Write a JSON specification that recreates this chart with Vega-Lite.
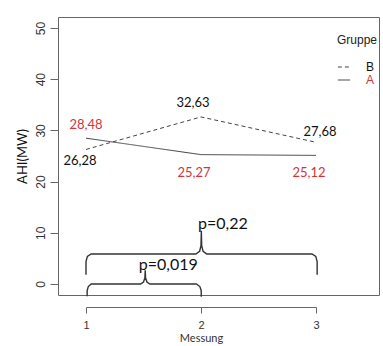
{
  "$schema": "https://vega.github.io/schema/vega-lite/v6.json",
  "width": 321,
  "height": 278,
  "autosize": "none",
  "padding": {"left": 58, "top": 17, "right": 4, "bottom": 51},
  "background": "white",
  "config": {
    "view": {"stroke": "#666", "strokeWidth": 1},
    "axis": {"grid": false, "labelFont": "Liberation Sans", "titleFont": "Lato", "titleFontWeight": "normal", "labelColor": "#333", "tickColor": "#666", "domainColor": "#666", "labelOverlap": false}
  },
  "datasets": {
    "means": [
      {"Messung": 1, "Gruppe": "A", "AHI": 28.48, "label": "28,48"},
      {"Messung": 2, "Gruppe": "A", "AHI": 25.27, "label": "25,27"},
      {"Messung": 3, "Gruppe": "A", "AHI": 25.12, "label": "25,12"},
      {"Messung": 1, "Gruppe": "B", "AHI": 26.28, "label": "26,28"},
      {"Messung": 2, "Gruppe": "B", "AHI": 32.63, "label": "32,63"},
      {"Messung": 3, "Gruppe": "B", "AHI": 27.68, "label": "27,68"}
    ],
    "braces": [
      {"brace": "12", "i": 1, "x": 1.01, "y": -2.4},
      {"brace": "12", "i": 2, "x": 1.01, "y": -1.3},
      {"brace": "12", "i": 3, "x": 1.02, "y": -0.5},
      {"brace": "12", "i": 4, "x": 1.045, "y": 0},
      {"brace": "12", "i": 5, "x": 1.475, "y": 0},
      {"brace": "12", "i": 6, "x": 1.5, "y": 0.4},
      {"brace": "12", "i": 7, "x": 1.512, "y": 1.2},
      {"brace": "12", "i": 8, "x": 1.515, "y": 2.7},
      {"brace": "12", "i": 9, "x": 1.518, "y": 1.2},
      {"brace": "12", "i": 10, "x": 1.53, "y": 0.4},
      {"brace": "12", "i": 11, "x": 1.555, "y": 0},
      {"brace": "12", "i": 12, "x": 1.96, "y": 0},
      {"brace": "12", "i": 13, "x": 1.99, "y": -0.5},
      {"brace": "12", "i": 14, "x": 2.002, "y": -1.3},
      {"brace": "12", "i": 15, "x": 2.002, "y": -2.5},
      {"brace": "13", "i": 1, "x": 1.0, "y": 1.8},
      {"brace": "13", "i": 2, "x": 1.0, "y": 4.4},
      {"brace": "13", "i": 3, "x": 1.012, "y": 5.4},
      {"brace": "13", "i": 4, "x": 1.045, "y": 5.86},
      {"brace": "13", "i": 5, "x": 1.955, "y": 5.86},
      {"brace": "13", "i": 6, "x": 1.988, "y": 6.4},
      {"brace": "13", "i": 7, "x": 2.0, "y": 7.5},
      {"brace": "13", "i": 8, "x": 2.003, "y": 10.4},
      {"brace": "13", "i": 9, "x": 2.006, "y": 7.5},
      {"brace": "13", "i": 10, "x": 2.018, "y": 6.4},
      {"brace": "13", "i": 11, "x": 2.05, "y": 5.86},
      {"brace": "13", "i": 12, "x": 2.965, "y": 5.86},
      {"brace": "13", "i": 13, "x": 2.998, "y": 5.4},
      {"brace": "13", "i": 14, "x": 3.01, "y": 4.4},
      {"brace": "13", "i": 15, "x": 3.01, "y": 1.8}
    ],
    "pvals": [
      {"x": 1.716, "y": 3.7, "text": "p=0,019"},
      {"x": 2.19, "y": 11.7, "text": "p=0,22"}
    ]
  },
  "layer": [
    {
      "data": {"name": "means"},
      "mark": {"type": "line", "color": "#444", "strokeWidth": 1},
      "encoding": {
        "x": {"field": "Messung", "type": "quantitative",
              "scale": {"domain": [1, 3], "range": [28, 258], "zero": false, "nice": false},
              "axis": {"values": [1, 2, 3], "labelExpr": "'' + round(datum.value)", "labelOverlap": false, "labelBound": false, "labelFlush": false, "offset": 12, "tickSize": 6, "labelPadding": 6, "labelFontSize": 11, "labelColor": "#333", "title": "Messung", "titleFontSize": 11, "titlePadding": 2, "titleColor": "#333"}},
        "y": {"field": "AHI", "type": "quantitative",
              "scale": {"domain": [0, 50], "range": [267, 11], "zero": false, "nice": false},
              "axis": {"values": [0, 10, 20, 30, 40, 50], "domain": false, "tickSize": 8, "labelAngle": 270, "labelAlign": "center", "labelBaseline": "bottom", "labelPadding": 3, "labelFontSize": 12, "title": "AHI(MW)", "titleFontSize": 13, "titleColor": "#111", "titlePadding": 5}},
        "strokeDash": {"field": "Gruppe", "type": "nominal",
              "scale": {"domain": ["B", "A"], "range": [[4, 3], [1, 0]]},
              "legend": {"title": "Gruppe", "orient": "none", "legendX": 279, "legendY": 18,
                         "titleFont": "Liberation Sans", "titleFontWeight": "normal", "titleFontSize": 12, "titleColor": "#222", "titlePadding": 13,
                         "labelFont": "Liberation Sans", "labelFontSize": 12, "labelOffset": 15, "rowPadding": -1, "symbolType": "stroke", "symbolSize": 150, "symbolStrokeColor": "#444", "symbolStrokeWidth": 1,
                         "encode": {"labels": {"update": {"fill": {"signal": "datum.label === 'A' ? '#d0343a' : '#111'"}}}}}}
      }
    },
    {
      "data": {"name": "means"},
      "transform": [{"filter": "datum.Gruppe === 'A' && datum.Messung === 1"}],
      "mark": {"type": "text", "font": "Lato", "fontSize": 13, "color": "#d0343a", "dy": -13, "dx": 0},
      "encoding": {"x": {"field": "Messung", "type": "quantitative"}, "y": {"field": "AHI", "type": "quantitative"}, "text": {"field": "label"}}
    },
    {
      "data": {"name": "means"},
      "transform": [{"filter": "datum.Gruppe === 'A' && datum.Messung !== 1"}],
      "mark": {"type": "text", "font": "Lato", "fontSize": 13, "color": "#d0343a", "dy": 18, "dx": -7},
      "encoding": {"x": {"field": "Messung", "type": "quantitative"}, "y": {"field": "AHI", "type": "quantitative"}, "text": {"field": "label"}}
    },
    {
      "data": {"name": "means"},
      "transform": [{"filter": "datum.Gruppe === 'B' && datum.Messung === 1"}],
      "mark": {"type": "text", "font": "Lato", "fontSize": 13, "color": "#111", "dy": 12, "dx": -6},
      "encoding": {"x": {"field": "Messung", "type": "quantitative"}, "y": {"field": "AHI", "type": "quantitative"}, "text": {"field": "label"}}
    },
    {
      "data": {"name": "means"},
      "transform": [{"filter": "datum.Gruppe === 'B' && datum.Messung === 2"}],
      "mark": {"type": "text", "font": "Lato", "fontSize": 13, "color": "#111", "dy": -14, "dx": -8},
      "encoding": {"x": {"field": "Messung", "type": "quantitative"}, "y": {"field": "AHI", "type": "quantitative"}, "text": {"field": "label"}}
    },
    {
      "data": {"name": "means"},
      "transform": [{"filter": "datum.Gruppe === 'B' && datum.Messung === 3"}],
      "mark": {"type": "text", "font": "Lato", "fontSize": 13, "color": "#111", "dy": -10, "dx": 4},
      "encoding": {"x": {"field": "Messung", "type": "quantitative"}, "y": {"field": "AHI", "type": "quantitative"}, "text": {"field": "label"}}
    },
    {
      "data": {"name": "braces"},
      "mark": {"type": "line", "color": "#333", "strokeWidth": 1.4},
      "encoding": {
        "x": {"field": "x", "type": "quantitative"},
        "y": {"field": "y", "type": "quantitative"},
        "detail": {"field": "brace"},
        "order": {"field": "i", "type": "quantitative"}
      }
    },
    {
      "data": {"name": "pvals"},
      "mark": {"type": "text", "font": "Lato", "fontSize": 16, "color": "#111", "align": "center", "baseline": "middle"},
      "encoding": {
        "x": {"field": "x", "type": "quantitative"},
        "y": {"field": "y", "type": "quantitative"},
        "text": {"field": "text"}
      }
    }
  ]
}
